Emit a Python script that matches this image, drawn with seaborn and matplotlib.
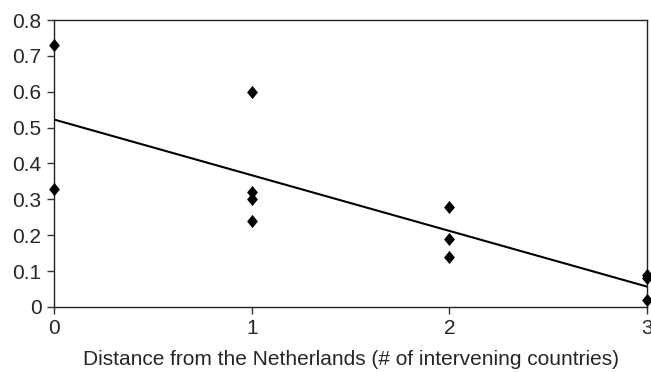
import numpy as np
import pandas as pd
import matplotlib
matplotlib.use("Agg")
import matplotlib.pyplot as plt
import seaborn as sns
from matplotlib.path import Path

distance = [0, 0, 1, 1, 1, 1, 2, 2, 2, 3, 3, 3]
value = [0.73, 0.33, 0.60, 0.32, 0.30, 0.24, 0.28, 0.19, 0.14, 0.09, 0.08, 0.02]
x_ticks = [0, 1, 2, 3]
y_ticks = [0, 0.1, 0.2, 0.3, 0.4, 0.5, 0.6, 0.7, 0.8]
x_label = "Distance from the Netherlands (# of intervening countries)"

df = pd.DataFrame({"distance": distance, "value": value})

sns.set_style("ticks")
plt.rcParams['font.family'] = ['Liberation Sans', 'DejaVu Sans']

fig = plt.figure(figsize=(6.51, 3.72), dpi=100)
ax = fig.add_axes([0.083, 0.175, 0.911, 0.771])

diamond = Path([(0, 1), (0.82, 0), (0, -1), (-0.82, 0), (0, 1)],
               [Path.MOVETO, Path.LINETO, Path.LINETO, Path.LINETO, Path.CLOSEPOLY])

sns.regplot(data=df, x="distance", y="value", ax=ax, ci=None, truncate=False,
            marker=diamond,
            scatter_kws=dict(s=90, color="black", alpha=1, zorder=3, linewidths=0),
            line_kws=dict(color="black", lw=1.5))

ax.set_xlim(0, 3)
ax.set_ylim(0, 0.8)
ax.set_xticks(x_ticks)
ax.set_xticklabels([str(t) for t in x_ticks])
ax.set_yticks(y_ticks)
ax.set_yticklabels(["0" if t == 0 else f"{t:.1f}" for t in y_ticks])
ax.tick_params(labelsize=15, length=5, width=1, color="#333333", pad=4, direction="out")
ax.set_xlabel(x_label, fontsize=15, labelpad=8)
ax.set_ylabel("")
for s in ax.spines.values():
    s.set_visible(True)
    s.set_color("#222222")
    s.set_linewidth(1)

for c in ax.collections:
    c.set_clip_on(False)

fig.savefig("out.png", dpi=100)
